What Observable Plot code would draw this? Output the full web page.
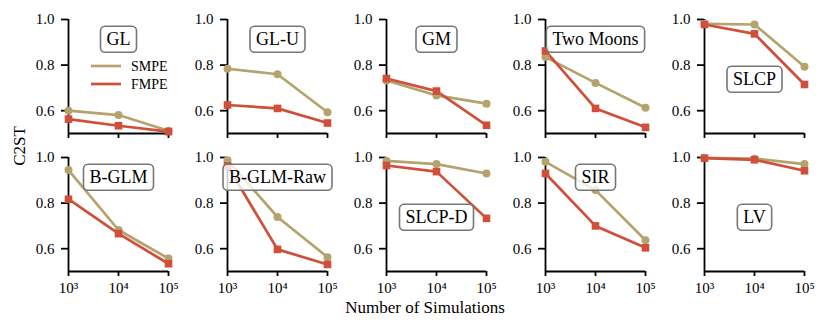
<!DOCTYPE html>
<html><head><meta charset="utf-8">
<script src="https://cdn.jsdelivr.net/npm/d3@7"></script>
<script src="https://cdn.jsdelivr.net/npm/@observablehq/plot@0.6"></script>
<style>
body{margin:0;background:#fff;}
#chart{position:relative;width:831px;height:332px;overflow:hidden;}
.panel{position:absolute;}
.ov{position:absolute;left:0;top:0;pointer-events:none;}
</style></head><body><div id="chart"></div>
<script>
const tasks = ["GL","GL-U","GM","Two Moons","SLCP","B-GLM","B-GLM-Raw","SLCP-D","SIR","LV"];
const sims = [1e3, 1e4, 1e5];
const methods = ["SMPE", "FMPE"];
const smpeValues = [
  [0.600, 0.581, 0.512],
  [0.784, 0.760, 0.593],
  [0.733, 0.667, 0.631],
  [0.835, 0.722, 0.613],
  [0.981, 0.978, 0.793],
  [0.945, 0.682, 0.557],
  [0.988, 0.739, 0.563],
  [0.985, 0.971, 0.930],
  [0.981, 0.857, 0.637],
  [0.998, 0.995, 0.971]
];
const fmpeValues = [
  [0.563, 0.534, 0.508],
  [0.625, 0.610, 0.546],
  [0.741, 0.686, 0.536],
  [0.862, 0.610, 0.527],
  [0.978, 0.937, 0.715],
  [0.817, 0.666, 0.534],
  [0.963, 0.597, 0.531],
  [0.965, 0.938, 0.733],
  [0.930, 0.700, 0.604],
  [0.997, 0.990, 0.942]
];
const yTicks = [0.6, 0.8, 1.0];
const xDomain = [1e3, 1e5];
const yDomain = [0.5, 1.0];
const xLabel = "Number of Simulations";
const yLabel = "C2ST";

const colors = ["#b5a36e", "#cf4f3b"];
const FONT = '"Liberation Serif", serif';
const ML = 48, MR = 16, MT = 6, MB = 32, PW = 100, PH = 114;
const COLS = 5, DX = 159, DY = 138, X0 = 68, Y0 = 19;
const lowLabel = new Set(["SLCP", "SLCP-D", "LV"]);
const sup = "⁰¹²³⁴⁵⁶⁷⁸⁹";
const fmtX = d => "10" + sup[Math.round(Math.log10(d))];

const chart = document.getElementById("chart");

tasks.forEach((task, i) => {
  const r = Math.floor(i / COLS), c = i % COLS;
  const rows = [];
  methods.forEach((m, k) => {
    const vals = k === 0 ? smpeValues[i] : fmpeValues[i];
    sims.forEach((s, j) => rows.push({method: m, sims: s, value: vals[j]}));
  });
  const svg = Plot.plot({
    width: ML + PW + MR, height: MT + PH + MB,
    marginLeft: ML, marginRight: MR, marginTop: MT, marginBottom: MB,
    style: {fontFamily: FONT, fontSize: "15px"},
    x: {type: "log", domain: xDomain},
    y: {domain: yDomain},
    color: {domain: methods, range: colors},
    marks: [
      Plot.axisY(yTicks, {tickSize: 7, tickPadding: 7, tickFormat: d3.format(".1f"), stroke: "#000", strokeWidth: 1.8, label: null, fontSize: 15, fontFamily: FONT}),
      Plot.axisX(sims, {tickSize: 5, tickPadding: 6, tickFormat: r === 0 ? () => "" : fmtX, stroke: "#000", strokeWidth: 1.8, label: null, fontSize: 15, fontFamily: FONT}),
      Plot.ruleX([xDomain[0]], {stroke: "#000", strokeWidth: 1.8}),
      Plot.ruleY([yDomain[0]], {stroke: "#000", strokeWidth: 1.8}),
      Plot.line(rows, {x: "sims", y: "value", z: "method", stroke: "method", strokeWidth: 2.7}),
      Plot.dot(rows.filter(d => d.method === "SMPE"), {x: "sims", y: "value", fill: "method", symbol: "circle", r: 4}),
      Plot.dot(rows.filter(d => d.method === "FMPE"), {x: "sims", y: "value", fill: "method", symbol: "square", r: 4.3}),
      Plot.text([task], {text: d => d, frameAnchor: "top", dy: lowLabel.has(task) ? 53 : 13, fontSize: 18, fontFamily: FONT, fill: "#000"})
    ]
  });
  svg.classList.add("panel");
  svg.style.left = (X0 + DX * c - ML) + "px";
  svg.style.top = (Y0 + DY * r - MT) + "px";
  svg.style.background = "transparent";
  svg.style.overflow = "visible";
  chart.appendChild(svg);
  // rounded box behind the panel label
  const t = Array.from(svg.querySelectorAll('g[aria-label="text"] text')).find(e => e.textContent === task);
  if (t) {
    const b = t.getBBox();
    const rect = document.createElementNS("http://www.w3.org/2000/svg", "rect");
    const px = 6, py = 3;
    rect.setAttribute("x", b.x - px);
    rect.setAttribute("y", b.y - py);
    rect.setAttribute("width", b.width + 2 * px);
    rect.setAttribute("height", b.height + 2 * py);
    rect.setAttribute("rx", 4.5);
    if (t.getAttribute("transform")) rect.setAttribute("transform", t.getAttribute("transform"));
    rect.setAttribute("fill", "rgba(255,255,255,0.8)");
    rect.setAttribute("stroke", "#777");
    rect.setAttribute("stroke-width", 1.6);
    t.parentNode.insertBefore(rect, t);
  }
});

// overlay: legend and shared axis titles
const ov = d3.select(chart).append("svg").attr("class", "ov").attr("width", 831).attr("height", 332)
  .attr("font-family", FONT);
const leg = ov.append("g").attr("transform", "translate(91,66)");
methods.forEach((m, k) => {
  const gg = leg.append("g").attr("transform", `translate(0,${k * 18})`);
  gg.append("line").attr("x1", 0).attr("x2", 30).attr("stroke", colors[k]).attr("stroke-width", 2.7);
  gg.append("text").attr("x", 40).attr("dy", "0.35em").attr("font-size", 14).text(m);
});
ov.append("text").attr("x", 425).attr("y", 313).attr("text-anchor", "middle").attr("font-size", 17).text(xLabel);
ov.append("text").attr("transform", "translate(25,146) rotate(-90)").attr("text-anchor", "middle").attr("font-size", 17).text(yLabel);
</script></body></html>
